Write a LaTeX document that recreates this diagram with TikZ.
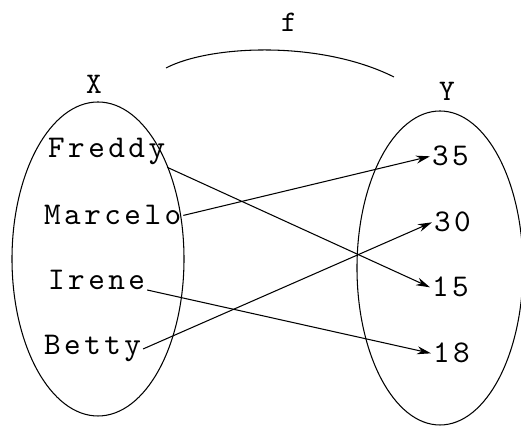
\documentclass[tikz,border=0pt]{standalone}
\usepackage{fontspec}
\usepackage{tikz}
\usetikzlibrary{arrows.meta}
\newfontfamily\spacedtt[LetterSpace=11]{lmmono10-regular.otf}
\newcommand{\elemfont}{\fontsize{18pt}{20pt}\spacedtt}
\newcommand{\lblfont}{\fontsize{17pt}{19pt}\spacedtt}

\begin{document}
\begin{tikzpicture}[x=0.2mm,y=-0.2mm,>={Stealth[length=2.8mm,width=1.6mm]},
 elem/.style={anchor=base west,inner sep=1pt,font=\elemfont},
 lbl/.style={inner sep=0pt,font=\lblfont},
 set/.style={draw,line width=0.6pt},
 map/.style={->,line width=0.6pt}]
\useasboundingbox[fill=white] (0,0) rectangle (521,427);
% the two sets
\draw[set] (98,259) ellipse [x radius=86,y radius=157];
\draw[set] (440,268) ellipse [x radius=83,y radius=157];
\node[lbl] (lblX) at (94,84) {X};
\node[lbl] (lblY) at (447,91) {Y};
% elements of X
\node[elem] (freddy) at (46,158) {Freddy};
\node[elem] (marcelo) at (42,225) {Marcelo};
\node[elem] (irene) at (46,290) {Irene};
\node[elem] (betty) at (42,355) {Betty};
% elements of Y
\node[elem] (v35) at (430,166) {35};
\node[elem] (v30) at (432,232) {30};
\node[elem] (v15) at (430,297) {15};
\node[elem] (v18) at (431,363) {18};
% the function
\node[lbl] (lblf) at (289,22) {f};
\coordinate (arcfrom) at (166,68);\coordinate (arcto) at (394,77);
\draw[line width=0.6pt] (arcfrom) .. controls (210,45) and (320,40) .. (arcto);
\draw[map] (freddy.south east)--(v15.west);\draw[map] (marcelo.east)--(v35.west);
\draw[map] (irene.base east)--(v18.west);\draw[map] (betty.east)--(v30.west);
\end{tikzpicture}
\end{document}
